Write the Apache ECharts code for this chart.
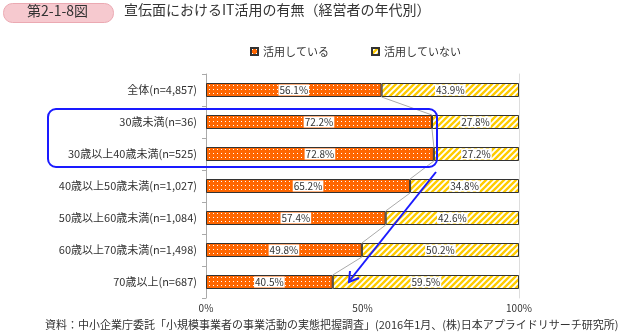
<!DOCTYPE html>
<html><head><meta charset="utf-8">
<script src="https://cdn.jsdelivr.net/npm/echarts@6/dist/echarts.min.js"></script>
<style>html,body{margin:0;padding:0;background:#fff}#c{width:643px;height:335px}</style>
</head><body><div id="c"></div>
<script>
const categories = ['全体(n=4,857)', '30歳未満(n=36)', '30歳以上40歳未満(n=525)', '40歳以上50歳未満(n=1,027)', '50歳以上60歳未満(n=1,084)', '60歳以上70歳未満(n=1,498)', '70歳以上(n=687)'];
const usedValues = [56.1, 72.2, 72.8, 65.2, 57.4, 49.8, 40.5];
const notUsedValues = [43.9, 27.8, 27.2, 34.8, 42.6, 50.2, 59.5];
const seriesNames = ['活用している', '活用していない'];
const xTicks = [0, 50, 100];

const FONT = '"Noto Sans CJK JP", "Noto Sans", sans-serif';

function dotPattern() {
  const c = document.createElement('canvas');
  c.width = 4; c.height = 4;
  const g = c.getContext('2d');
  g.fillStyle = '#FF6600'; g.fillRect(0, 0, 4, 4);
  g.fillStyle = '#FFFFFF'; g.fillRect(1, 1, 1, 1);
  return c;
}
function stripePattern() {
  const c = document.createElement('canvas');
  c.width = 6; c.height = 6;
  const g = c.getContext('2d');
  g.fillStyle = '#FFFFFF'; g.fillRect(0, 0, 6, 6);
  g.strokeStyle = '#FFCC00'; g.lineWidth = 2.4;
  g.beginPath();
  g.moveTo(-1, 7); g.lineTo(7, -1);
  g.moveTo(-4, 4); g.lineTo(4, -4);
  g.moveTo(2, 10); g.lineTo(10, 2);
  g.stroke();
  return c;
}

const chart = echarts.init(document.getElementById('c'), null, {renderer: 'canvas'});

const labelStyle = {
  show: true, position: 'inside', color: '#333', fontSize: 10, fontFamily: FONT,
  backgroundColor: '#fff', padding: [1, 1, 0, 1],
  formatter: p => p.value.toFixed(1) + '%'
};

const linkData = [];
for (let i = 0; i < usedValues.length - 1; i++) linkData.push([usedValues[i], usedValues[i + 1], i]);

chart.setOption({
  animation: false,
  textStyle: {fontFamily: FONT},
  legend: {
    top: 41, left: 245, itemWidth: 7, itemHeight: 7, itemGap: 42,
    textStyle: {fontSize: 11, color: '#333', fontFamily: FONT},
    data: seriesNames.map(n => ({name: n, icon: 'rect'}))
  },
  grid: {left: 206, right: 124, top: 74, height: 224},
  xAxis: {
    type: 'value', min: 0, max: 100, interval: 50,
    axisLine: {show: false}, axisTick: {show: false}, splitLine: {show: false},
    axisLabel: {formatter: v => xTicks.includes(v) ? v + '%' : '', color: '#333', fontSize: 10, margin: 5, fontFamily: FONT}
  },
  yAxis: [{
    type: 'category', data: categories, inverse: true,
    axisLine: {show: true, lineStyle: {color: '#aaa'}},
    axisTick: {show: true, length: 4, lineStyle: {color: '#aaa'}},
    axisLabel: {color: '#333', fontSize: 11, margin: 9, fontFamily: FONT}
  }, {
    type: 'category', data: categories, inverse: true, position: 'right',
    axisLine: {show: true, lineStyle: {color: '#ddd'}},
    axisTick: {show: false}, axisLabel: {show: false}
  }],
  series: [
    {
      name: seriesNames[0], type: 'bar', stack: 's', barWidth: 14, data: usedValues,
      itemStyle: {color: {image: dotPattern(), repeat: 'repeat'}, borderColor: '#333', borderWidth: 1},
      label: labelStyle
    },
    {
      name: seriesNames[1], type: 'bar', stack: 's', barWidth: 14, data: notUsedValues,
      itemStyle: {color: {image: stripePattern(), repeat: 'repeat'}, borderColor: '#333', borderWidth: 1},
      label: labelStyle
    },
    {
      type: 'custom', z: 1, silent: true, data: linkData,
      renderItem: (params, api) => {
        const i = api.value(2);
        const p1 = api.coord([api.value(0), i]);
        const p2 = api.coord([api.value(1), i + 1]);
        return {type: 'line', shape: {x1: p1[0], y1: p1[1] + 7, x2: p2[0], y2: p2[1] - 7},
          style: {stroke: '#aaa', lineWidth: 1}};
      },
      encode: {x: 0}
    }
  ],
  graphic: [
    {type: 'rect', left: 3, top: 3, shape: {width: 110, height: 19, r: 9},
      style: {fill: '#F6C9CF', stroke: '#EBA9B2', lineWidth: 1}},
    {type: 'text', left: 27, top: 4, style: {text: '第2-1-8図', fontSize: 14, fill: '#333', fontFamily: FONT}},
    {type: 'text', left: 124, top: 3, style: {text: '宣伝面におけるIT活用の有無（経営者の年代別）', fontSize: 14, fill: '#333', fontFamily: FONT}},
    {type: 'rect', shape: {x: 48, y: 109, width: 389, height: 58, r: 8},
      style: {fill: 'none', stroke: '#1a1aff', lineWidth: 2}, z: 100},
    {type: 'line', shape: {x1: 436, y1: 172, x2: 350, y2: 280}, style: {stroke: '#1a1aff', lineWidth: 2}, z: 100},
    {type: 'polyline', shape: {points: [[350, 271], [349, 282], [359, 278]]}, style: {stroke: '#1a1aff', lineWidth: 2, fill: 'none'}, z: 100},
    {type: 'text', left: 45, top: 319, style: {text: '資料：中小企業庁委託「小規模事業者の事業活動の実態把握調査」(2016年1月、(株)日本アプライドリサーチ研究所)', fontSize: 11, fill: '#333', fontFamily: FONT}}
  ]
});
</script></body></html>
